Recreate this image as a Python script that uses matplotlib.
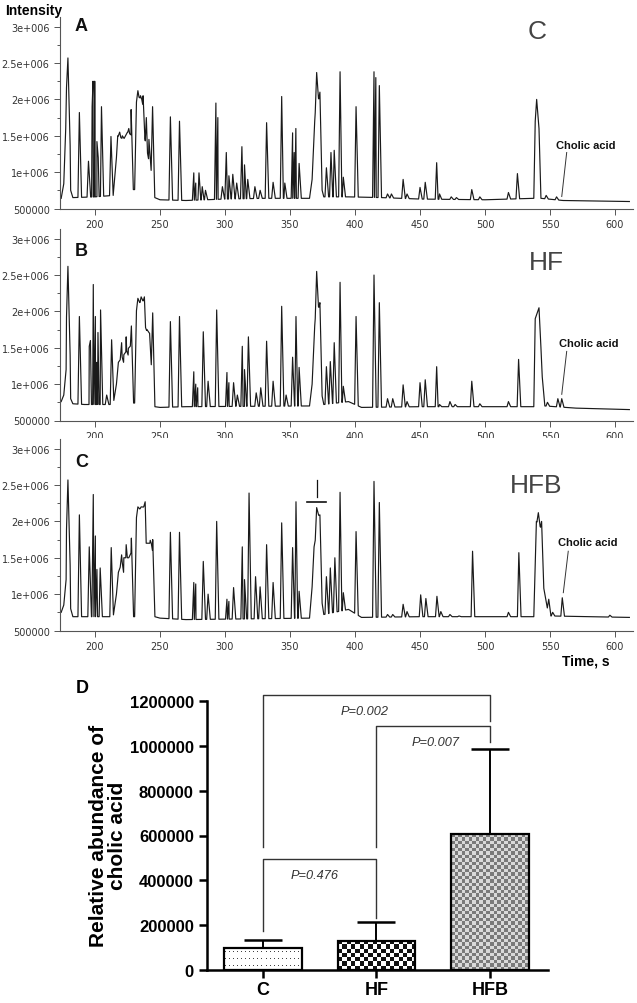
import numpy as np
import matplotlib
matplotlib.use("Agg")
import matplotlib.pyplot as plt
from matplotlib.colors import ListedColormap

# ---------------- chromatogram data (time s, intensity) ----------------
# broad envelope of each trace
envA_t = [174, 176, 177.5, 178.3, 180.3, 181.3, 183, 200, 214, 216.5, 217.5, 222, 225, 228.6, 229.5,
          230.5, 232, 236.5, 238, 241, 243.5, 246, 250, 270, 300, 330, 365, 367, 369, 370.2, 372.5,
          374, 376, 395, 420, 450, 500, 537.5, 538.6, 541.5, 543, 560, 611]
envA_y = [6.4e5, 8.4e5, 1.6e6, 2.35e6, 2.3e6, 7.5e5, 6.5e5, 6.6e5, 6.8e5, 1.2e6, 1.5e6, 1.45e6, 1.55e6, 1.5e6, 7.6e5,
          7.6e5, 2.05e6, 2.0e6, 1.5e6, 1.2e6, 1.0e6, 6.5e5, 6.2e5, 6.1e5, 6.3e5, 6.4e5, 6.4e5, 9e5, 1.7e6, 2.05e6, 2.0e6,
          8e5, 6.6e5, 6.6e5, 6.5e5, 6.3e5, 6.2e5, 6.4e5, 1.7e6, 1.6e6, 6.4e5, 6.1e5, 5.96e5]
pkA_t = [179.2, 188, 195, 197.8, 198.5, 199.8, 201.5, 202.5, 205, 212.3, 219, 221, 223.5, 226, 227.8,
         233, 235, 237, 239.5, 241.5, 244.3, 258, 265, 276, 277.5, 280, 282.5, 285, 293, 294.5, 298,
         301, 303, 306, 309, 313, 315, 317.5, 323, 327, 332, 337, 343.6, 346, 352, 353.2, 354.5, 357,
         370.5, 373, 378, 381.5, 384, 388.5, 391, 400.8, 414.6, 416, 418.7, 425, 428, 437, 440, 450,
         454, 462.8, 465, 474, 478, 489.8, 496, 518, 524.9, 539.7, 547, 555]
pkA_h = [2.57e6, 1.82e6, 1.15e6, 1.9e6, 2.25e6, 2.25e6, 1.42e6, 1.2e6, 1.9e6, 1.49e6, 1.55e6, 1.5e6, 1.5e6, 1.6e6, 1.86e6,
         2.12e6, 2.05e6, 2.05e6, 1.75e6, 1.45e6, 1.9e6, 1.76e6, 1.7e6, 9.9e5, 8.5e5, 9.9e5, 8e5, 7.5e5, 1.95e6, 1.75e6, 8e5,
         1.27e6, 9.5e5, 9.7e5, 8.5e5, 1.35e6, 1.1e6, 9e5, 8e5, 7.5e5, 1.68e6, 8.6e5, 2.04e6, 8.5e5, 1.54e6, 1.27e6, 1.6e6, 1.12e6,
         2.37e6, 2.1e6, 1.06e6, 1.27e6, 1.3e6, 2.38e6, 9.3e5, 1.9e6, 2.38e6, 2.3e6, 2.19e6, 7e5, 7e5, 9e5, 7e5, 7.9e5,
         8.6e5, 1.13e6, 7e5, 6.6e5, 6.5e5, 7.6e5, 6.6e5, 7.2e5, 9.8e5, 2.0e6, 6.8e5, 6.6e5]

envB_t = [174, 176, 177, 177.8, 178.3, 180.3, 181.3, 183, 192, 214, 216.5, 218, 222, 226, 228.6, 229.5,
          230.5, 232, 237.5, 239, 242, 243.5, 246, 250, 270, 365, 367, 369, 370.2, 372.5, 374, 376,
          395, 405, 450, 537.5, 538.6, 541.5, 543, 544, 546, 570, 611]
envB_y = [7.6e5, 8.5e5, 1.05e6, 1.2e6, 2.4e6, 2.3e6, 8e5, 7.3e5, 7.2e5, 7.2e5, 1.0e6, 1.3e6, 1.4e6, 1.5e6, 1.55e6, 7.4e5,
          7.4e5, 2.1e6, 2.15e6, 1.75e6, 1.7e6, 1.2e6, 6.9e5, 6.8e5, 6.9e5, 7.0e5, 1.0e6, 1.8e6, 2.1e6, 2.05e6, 9e5, 7.2e5,
          7.6e5, 6.8e5, 6.9e5, 6.9e5, 1.9e6, 2.05e6, 1.5e6, 1.1e6, 7.0e5, 6.7e5, 6.5e5]
pkB_t = [179.2, 188, 195.6, 196.5, 198.7, 200.3, 201.5, 202.3, 204.3, 209, 212.8, 220.5, 222, 224, 225.5, 228,
         233, 235.5, 238, 240, 244.4, 258, 265, 276, 277.5, 279, 283.3, 287, 293.6, 301.5, 303, 306.6, 309.5,
         313.3, 315, 318, 324, 327.5, 332, 337, 343.6, 347, 352, 354.6, 357, 370.5, 373, 378, 381, 384,
         388.5, 391, 400.8, 414.6, 418.7, 425, 429, 437, 440, 450, 454, 462.8, 465, 473, 477, 489.8, 496,
         518, 525.8, 548, 556, 559]
pkB_h = [2.62e6, 1.93e6, 1.52e6, 1.6e6, 2.37e6, 1.93e6, 1.3e6, 1.71e6, 2.02e6, 8.5e5, 1.61e6, 1.57e6, 1.3e6, 1.65e6, 1.4e6, 1.8e6,
         2.18e6, 2.2e6, 2.2e6, 1.75e6, 1.98e6, 1.86e6, 1.93e6, 1.17e6, 1.0e6, 9.5e5, 1.72e6, 1.04e6, 2.02e6, 1.16e6, 1.02e6, 1.02e6, 8.5e5,
         1.52e6, 1.2e6, 1.65e6, 8.8e5, 9.5e5, 1.59e6, 1.04e6, 2.07e6, 8.5e5, 1.37e6, 1.93e6, 1.23e6, 2.55e6, 2.12e6, 1.24e6, 1.31e6, 1.57e6,
         2.4e6, 9.7e5, 1.93e6, 2.5e6, 2.12e6, 8e5, 8e5, 9.9e5, 7.6e5, 1.02e6, 1.06e6, 1.24e6, 7.2e5, 7.6e5, 7.2e5, 1.04e6, 7.3e5,
         7.6e5, 1.34e6, 7.5e5, 8e5, 8e5]

envC_t = [174, 176, 177.8, 178.3, 180.3, 181.3, 183, 214, 216.5, 218, 222, 226, 228.6, 229.5,
          230.5, 232, 237.5, 239, 244, 245, 246, 250, 270, 365, 367, 368.5, 369.5, 370.5, 373, 374.5, 376,
          395, 405, 450, 537.5, 539.5, 543.5, 545, 548, 550, 611]
envC_y = [7.5e5, 8.5e5, 1.2e6, 2.35e6, 2.3e6, 8e5, 6.9e5, 6.9e5, 1.0e6, 1.3e6, 1.5e6, 1.5e6, 1.6e6, 6.9e5,
          6.9e5, 2.15e6, 2.2e6, 1.7e6, 1.7e6, 1.2e6, 6.9e5, 6.7e5, 6.5e5, 6.7e5, 1.1e6, 1.65e6, 1.75e6, 2.15e6, 2.05e6, 9e5, 7.2e5,
          7.9e5, 6.8e5, 6.9e5, 6.9e5, 2.0e6, 1.9e6, 1.1e6, 8e5, 7.0e5, 6.8e5]
pkC_t = [179.2, 188, 195.6, 198.7, 200.3, 201.5, 204, 212.5, 220.5, 222, 224, 226, 228, 233, 235.5, 238.6,
         240.5, 242.5, 244.4, 258, 265, 276, 277.5, 283.3, 287, 293.6, 301.5, 303, 306.6, 313.3, 315, 318.5,
         323.5, 327, 332, 337, 343.6, 352, 354.6, 357, 370.5, 373, 378, 381, 384.5, 388.5, 391, 400.8,
         414.6, 418.7, 425, 429, 437, 440, 450.5, 454.5, 463, 466, 473, 480, 490.4, 518, 526, 541, 543.5,
         549, 552, 559.4, 596]
pkC_h = [2.57e6, 2.09e6, 1.65e6, 2.37e6, 1.8e6, 1.34e6, 1.36e6, 1.64e6, 1.54e6, 1.3e6, 1.68e6, 1.5e6, 1.77e6, 2.2e6, 2.2e6, 2.27e6,
         1.7e6, 1.74e6, 1.75e6, 1.85e6, 1.85e6, 1.16e6, 1.14e6, 1.45e6, 1.0e6, 2.0e6, 9.3e5, 9e5, 1.09e6, 1.65e6, 1.2e6, 2.39e6,
         1.24e6, 1.1e6, 1.68e6, 1.16e6, 1.98e6, 1.64e6, 2.27e6, 1.04e6, 2.19e6, 2.09e6, 1.24e6, 1.36e6, 1.5e6, 2.4e6, 1.02e6, 1.86e6,
         2.55e6, 2.26e6, 7.2e5, 7.2e5, 8.6e5, 7.6e5, 9.9e5, 9.4e5, 9.7e5, 7.6e5, 7.2e5, 7e5, 1.59e6, 7.5e5, 1.57e6, 2.12e6, 2.0e6,
         9.3e5, 7.5e5, 9.5e5, 7.1e5]

groups = ["C", "HF", "HFB"]
panel_letters = ["A", "B", "C"]
# cholic acid pointer: foot of the line, top of the line, label centre
cholic_xy = [(559.0, 6.65e5), (559.0, 8.6e5), (560.2, 1.02e6)]
cholic_line_top = [(562.8, 1.27e6), (562.8, 1.45e6), (564.0, 1.59e6)]
cholic_text = [(577.7, 1.38e6), (580.0, 1.57e6), (579.0, 1.71e6)]
# small marks on peak in trace HFB
mark_v_t = [371, 371]
mark_v_y = [2.34e6, 2.57e6]
mark_h_t = [363, 378]
mark_h_y = [2.27e6, 2.27e6]

# ---------------- bar chart data ----------------
bar_means = [97000, 130000, 605000]
bar_err = [38000, 85000, 383000]
# brackets: left group, right group, left leg end, top, right leg end, p text
br_left = [0, 1, 0]
br_right = [1, 2, 2]
br_leg_l = [1.74e5, 5.49e5, 5.49e5]
br_top = [4.95e5, 1.088e6, 1.227e6]
br_leg_r = [2.3e5, 1.017e6, 1.11e6]
br_text = ["P=0.476", "P=0.007", "P=0.002"]

# ------------------------------------------------
plt.rcParams['font.family'] = ['Liberation Sans', 'DejaVu Sans']
W, H = 637, 1004
fig = plt.figure(figsize=(W / 100, H / 100), dpi=100)


def build_trace(env_t, env_y, pk_t, pk_h, lw_=1.1, rw_=1.7):
    pts = []
    for t, y in zip(env_t, env_y):
        if not any(p - lw_ < t < p + rw_ for p in pk_t):
            pts.append((t, y))
    for p, h in zip(pk_t, pk_h):
        for tt in (p - lw_, p + rw_):
            pts.append((tt, np.interp(tt, env_t, env_y)))
        pts.append((p, h))
    pts.sort()
    return np.array(pts).T


traces = [(envA_t, envA_y, pkA_t, pkA_h), (envB_t, envB_y, pkB_t, pkB_h), (envC_t, envC_y, pkC_t, pkC_h)]
bottoms_px = [209.5, 421.5, 631.5]
group_pos = [(0.832, 0.924), (0.848, 0.826), (0.831, 0.758)]
letter_y = [0.995, 0.932, 0.922]

for k in range(3):
    ax = fig.add_axes([60 / W, 1 - bottoms_px[k] / H, 573 / W, 192 / H])
    t, y = build_trace(*traces[k])
    ax.plot(t, y, color='#1a1a1a', lw=0.85)
    ax.set_xlim(173.1, 613.8)
    ax.set_ylim(5e5, 3.14e6)
    for s in ['top', 'right']:
        ax.spines[s].set_visible(False)
    for s in ['left', 'bottom']:
        ax.spines[s].set_color('#555555')
        ax.spines[s].set_linewidth(0.8)
    ax.set_xticks(np.arange(200, 601, 50))
    ax.set_yticks([5e5, 1e6, 1.5e6, 2e6, 2.5e6, 3e6])
    ax.set_yticklabels(['500000', '1e+006', '1.5e+006', '2e+006', '2.5e+006', '3e+006'])
    ax.set_yticks(np.arange(7.5e5, 3e6, 5e5), minor=True)
    ax.tick_params(which='both', colors='#555555', labelcolor='#333333', labelsize=7, width=0.7)
    ax.tick_params(which='major', length=4)
    ax.tick_params(which='minor', length=2.5)
    for lab in ax.get_xticklabels() + ax.get_yticklabels():
        lab.set_family('DejaVu Sans')
    ax.text(0.0375, letter_y[k], panel_letters[k], transform=ax.transAxes, fontsize=13,
            fontweight='bold', ha='center', va='top', color='#111111')
    ax.text(group_pos[k][0], group_pos[k][1], groups[k], transform=ax.transAxes, fontsize=19,
            color='#444444', ha='center', va='center')
    ax.plot([cholic_xy[k][0], cholic_line_top[k][0]], [cholic_xy[k][1], cholic_line_top[k][1]],
            color='#333333', lw=0.7)
    ax.text(cholic_text[k][0], cholic_text[k][1], 'Cholic acid', fontsize=8, fontweight='bold',
            ha='center', va='center', color='#111111')
    if k == 2:
        ax.plot(mark_v_t, mark_v_y, color='#111111', lw=0.9)
        ax.plot(mark_h_t, mark_h_y, color='#111111', lw=1.2)

fig.text(34 / W, 1 - 11 / H, 'Intensity', fontsize=10, fontweight='bold', ha='center', va='center')
fig.text(586 / W, 1 - 662 / H, 'Time, s', fontsize=10, fontweight='bold', ha='center', va='center')

# ---------------- panel D ----------------
axd = fig.add_axes([207 / W, 1 - 971 / H, 341 / W, 269 / H])
xpos = np.arange(len(groups))
axd.set_xlim(-0.493, 2.511)
axd.set_ylim(0, 1.2e6)
axd.errorbar(xpos, bar_means, yerr=[np.zeros(3), bar_err], fmt='none', ecolor='black',
             elinewidth=1.4, capsize=14, capthick=1.8, zorder=1)
bars = axd.bar(xpos, bar_means, width=0.68, facecolor='none', edgecolor='black', linewidth=1.6, zorder=3)


def bar_px(patch):
    x0, y0 = axd.transData.transform((patch.get_x(), patch.get_y()))
    x1, y1 = axd.transData.transform((patch.get_x() + patch.get_width(), patch.get_y() + patch.get_height()))
    return x1 - x0, y1 - y0


# fill patterns: dotted, black checker, grey checker
patterns = []
wpx, hpx = bar_px(bars[0])
ny, nx = int(round(hpx)), int(round(wpx))
dots = np.ones((ny, nx))
rr, cc = np.mgrid[0:ny, 0:nx]
dots[(rr % 7 == 3) & (cc % 4 == 1)] = 0
patterns.append((dots, ListedColormap(['#444444', 'white'])))
for i, cell, cols in [(1, 4.3, ['#111111', 'white']), (2, 3.5, ['#7a7a7a', '#d9d9d9'])]:
    wpx, hpx = bar_px(bars[i])
    nx, ny = int(round(wpx / cell)), int(round(hpx / cell))
    chk = np.add.outer(np.arange(ny), np.arange(nx)) % 2
    patterns.append((chk, ListedColormap(cols)))

for patch, (img, cmap) in zip(bars, patterns):
    x, y = patch.get_x(), patch.get_y()
    im = axd.imshow(img, extent=(x, x + patch.get_width(), y, y + patch.get_height()), aspect='auto',
                    interpolation='nearest', cmap=cmap, vmin=0, vmax=1, zorder=2)
    im.set_clip_path(patch)
axd.set_xlim(-0.493, 2.511)
axd.set_ylim(0, 1.2e6)

for i in range(3):
    xl, xr = br_left[i], br_right[i]
    axd.plot([xl, xl, xr, xr], [br_leg_l[i], br_top[i], br_top[i], br_leg_r[i]], color='#333333',
             lw=1.0, clip_on=False, zorder=1)
text_x = [0.454, 1.524, 0.899]
for i in range(3):
    axd.text(text_x[i], br_top[i] - 7e4, br_text[i], fontsize=9.2, style='italic', color='#333333',
             ha='center', va='center')

for s in ['top', 'right']:
    axd.spines[s].set_visible(False)
for s in ['left', 'bottom']:
    axd.spines[s].set_linewidth(1.8)
axd.set_xticks(xpos)
axd.set_xticklabels(groups, fontsize=13, fontweight='bold')
axd.set_yticks(np.arange(0, 1.2e6 + 1, 2e5))
axd.set_yticklabels(['%d' % v for v in np.arange(0, 1.2e6 + 1, 2e5)], fontsize=12, fontweight='bold')
axd.tick_params(width=1.8, length=6)
axd.tick_params(axis='x', pad=2)
axd.text(-0.29, 0.502, 'Relative abundance of\ncholic acid', transform=axd.transAxes, rotation=90,
         fontsize=15, fontweight='bold', ha='center', va='center', linespacing=1.05)
fig.text(82.5 / W, 1 - 688.5 / H, 'D', fontsize=13, fontweight='bold', ha='center', va='center')

fig.savefig('out.png', dpi=100)
